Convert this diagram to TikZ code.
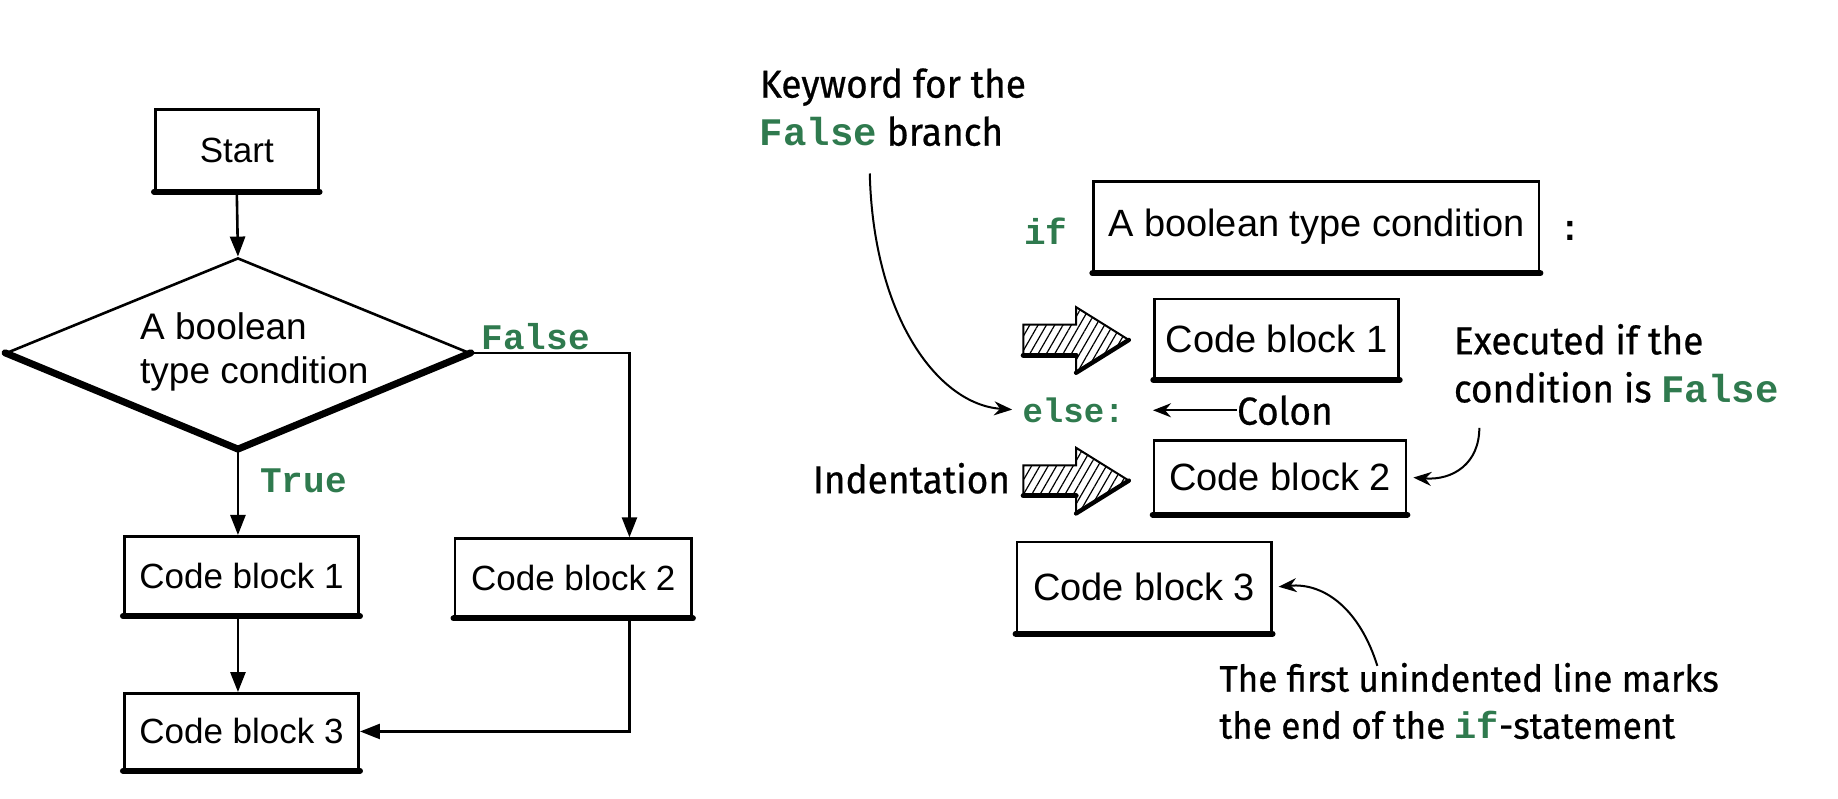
\documentclass[tikz,border=0pt]{standalone}
\usepackage{fontspec}
\setmainfont{Liberation Sans}
\newfontfamily\mono{Liberation Mono}
\newfontfamily\hand{Fira Sans}[FakeStretch=0.95,FakeBold=0.6]
\usetikzlibrary{arrows.meta,patterns.meta,calc,shapes.geometric}
\definecolor{kwgreen}{RGB}{47,122,78}
\newcommand{\heavybase}[1]{\draw[line width=3pt,line cap=round] (#1.south west) -- (#1.south east);}
\newcommand{\hatcharrow}[1]{%
  \begin{scope}[shift={(#1)}]
    \draw[hatch] (-45,-13) -- (0,-13) -- (0,-28) -- (45,0) -- (0,28) -- (0,13) -- (-45,13) -- cycle;
    \draw[line width=2.6pt,line cap=round] (-45,13) -- (0,13);
    \draw[line width=2.2pt,line cap=round] (0,28) -- (45,0);
  \end{scope}}
\begin{document}
\begin{tikzpicture}[x=0.5861pt,y=-0.5861pt,
  sz/.style 2 args={minimum width=#1*0.5861pt,minimum height=#2*0.5861pt},
  box/.style={draw,line width=1.3pt,fill=white,inner sep=0pt,font=\fontsize{17.5}{20}\selectfont},
  bigbox/.style={box,font=\fontsize{19}{22}\selectfont},
  arr/.style={line width=1.3pt,-{Triangle[length=10pt,width=7.5pt]}},
  carr/.style={line width=1pt,-{Stealth[length=9pt,width=7pt]}},
  kw/.style={font=\mono\bfseries\fontsize{18}{20}\selectfont,text=kwgreen,inner sep=0pt},
  note/.style={font=\hand\fontsize{19.5}{24}\selectfont,inner sep=0pt,align=left},
  hatch/.style={draw,line width=1pt,pattern={Lines[angle=60,distance=3.6pt,line width=0.6pt]}}]
\useasboundingbox (0,0) rectangle (1568,681);

% ---------------- left flowchart ----------------
\node[box,sz={139}{69}] (start) at (202,128) {Start};
\heavybase{start}
\node[draw,line width=1.3pt,diamond,inner sep=0pt,sz={395}{162}] (cond) at (203,301) {};
\draw[line width=3.5pt,line cap=round,line join=round] (cond.west) -- (cond.south) -- (cond.east);
\node[align=left,inner sep=0pt,font=\fontsize{18.5}{22}\selectfont] (condtxt) at (217,300) {A boolean\\type condition};
\node[kw] (flab) at (457,287) {False};
\node[kw] (tlab) at (259,410) {True};

\node[box,sz={200}{67}] (cb1L) at (206,491) {Code block 1};
\heavybase{cb1L}
\node[box,sz={202}{67}] (cb2L) at (489,493) {Code block 2};
\heavybase{cb2L}
\node[box,sz={200}{65}] (cb3L) at (206,624) {Code block 3};
\heavybase{cb3L}

\coordinate (fcol) at (537,310);
\draw[arr] (start.south) -- (cond.north);
\draw[arr] (cond.south) -- (cond.south |- cb1L.north);
\draw[arr] (cond.east) -| (fcol |- cb2L.north);
\draw[arr] (cb1L.south -| cond.south) -- (cond.south |- cb3L.north);
\draw[arr] (fcol |- cb2L.south) |- (cb3L.east);

% ---------------- right code layout ----------------
\node[note,anchor=north west] (kwnote) at (648,58) {Keyword for the\\{\mono\bfseries\color{kwgreen}False} branch};
\coordinate (kwtail) at (742,148);

\node[kw] (if) at (892,197) {if};
\node[bigbox,sz={380}{77}] (condR) at (1123,193.5) {A boolean type condition};
\heavybase{condR}
\node[kw,text=black] (colonR) at (1340,197) {:};

\hatcharrow{918,290}
\node[bigbox,sz={208}{68}] (cb1R) at (1089,289) {Code block 1};
\heavybase{cb1R}
\node[note,anchor=west] (exec) at (1240,310) {Executed if the\\condition is {\mono\bfseries\color{kwgreen}False}};

\node[kw,anchor=west,font=\mono\bfseries\fontsize{17}{20}\selectfont] (else) at (872,350) {else:};
\node[note,anchor=west] (colon) at (1055,350) {Colon};
\draw[carr] (colon.west) -- ([xshift=14pt]else.east);
\draw[carr,shorten >=5pt] (kwtail) .. controls (745,270) and (800,345) .. (else.west);

\node[note,anchor=east] (indent) at (862,408) {Indentation};
\hatcharrow{918,410}
\node[bigbox,sz={215}{62}] (cb2R) at (1092,407) {Code block 2};
\heavybase{cb2R}
\coordinate (exectail) at (1262,365);
\draw[carr,shorten >=3pt] (exectail) .. controls (1262,395) and (1240,410) .. (cb2R.east);

\node[bigbox,sz={217}{77}] (cb3R) at (976,501) {Code block 3};
\heavybase{cb3R}
\coordinate (endtail) at (1175,568);
\draw[carr,shorten >=3pt] (endtail) .. controls (1160,520) and (1130,497) .. (cb3R.east);
\node[note,anchor=west,font=\hand\fontsize{18.5}{23.5}\selectfont] (endnote) at (1040,598) {The first unindented line marks\\the end of the {\mono\bfseries\color{kwgreen}if}-statement};
\end{tikzpicture}
\end{document}
